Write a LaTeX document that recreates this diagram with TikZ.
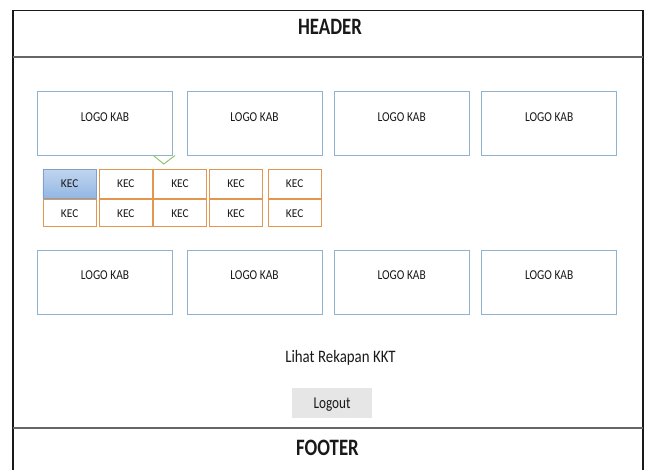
\documentclass[tikz,border=0pt]{standalone}
\usepackage{graphicx}
\usepackage{fontspec}
\setmainfont{Carlito}
% condensed label text: size, horizontal scale, text
\newcommand{\cond}[3]{\scalebox{#2}[1]{\fontsize{#1}{#1}\selectfont #3}}
\begin{document}
\begin{tikzpicture}[x=1pt,y=-1pt,
  frameline/.style={draw=black!90, line width=1.1pt},
  bandline/.style={draw=black!60, line width=1.6pt},
  logobox/.style={draw=logoblue, line width=0.9pt, fill=white, minimum width=135pt, minimum height=64.5pt, inner sep=0pt},
  kecbox/.style={draw=kecorange, line width=0.9pt, fill=white, minimum width=53.5pt, inner sep=0pt},
  kecsel/.style={kecbox, draw=selblue!90!black, top color=selblue!55, bottom color=selblue!95},
  txt/.style={inner sep=0pt, anchor=base, text=black!90},
]
\definecolor{logoblue}{HTML}{8EB2CF}
\definecolor{kecorange}{HTML}{E3964F}
\definecolor{selblue}{HTML}{8DB3E2}
\definecolor{chevgreen}{HTML}{86C266}
\definecolor{btngrey}{HTML}{E6E6E6}
\useasboundingbox (0,0) rectangle (649,470);
\fill[white] (0,0) rectangle (649,470);

% page frame with header and footer bands
\draw[frameline] (13,470) -- (13,10.5) -- (643,10.5) -- (643,470);
\draw[bandline] (13,57) -- (643,57);
\draw[bandline] (13,428) -- (643,428);
\node[txt] (header) at (330,35) {\cond{23.5}{0.8}{\bfseries HEADER}};
\node[txt] (footer) at (327.5,456) {\cond{23.5}{0.8}{\bfseries FOOTER}};

% top row of regency logos
\node[logobox] (k1) at (105,123.7) {};
\node[logobox] (k2) at (254.5,123.7) {};
\node[logobox] (k3) at (401.7,123.7) {};
\node[logobox] (k4) at (549.2,123.7) {};

% bottom row of regency logos
\node[logobox] (k5) at (105,282.3) {};
\node[logobox] (k6) at (254.5,282.3) {};
\node[logobox] (k7) at (401.7,282.3) {};
\node[logobox] (k8) at (549.2,282.3) {};

\foreach \k in {k1,k2,k3,k4,k5,k6,k7,k8}
  \node[txt, yshift=2.5pt] (\k-t) at (\k.center) {\cond{13.6}{0.84}{LOGO KAB}};

% pointer under the first logo
\coordinate (cv1) at (153.3,155.5);
\coordinate (cv2) at (163.8,164);
\coordinate (cv3) at (175,155.5);
\draw[chevgreen, line width=0.9pt] (cv1) -- (cv2) -- (cv3);

% district grid
\node[kecsel, minimum height=29pt] (c11) at (69.7,183.8) {};
\node[kecbox, minimum height=29pt] (c12) at (125.8,183.8) {};
\node[kecbox, minimum height=29pt] (c13) at (180,183.8) {};
\node[kecbox, minimum height=29pt] (c14) at (236,183.8) {};
\node[kecbox, minimum height=29pt] (c15) at (294.7,183.8) {};
\node[kecbox, minimum height=27pt] (c21) at (69.7,213.4) {};
\node[kecbox, minimum height=27pt] (c22) at (125.8,213.4) {};
\node[kecbox, minimum height=27pt] (c23) at (180,213.4) {};
\node[kecbox, minimum height=27pt] (c24) at (236,213.4) {};
\node[kecbox, minimum height=27pt] (c25) at (294.7,213.4) {};
\foreach \c in {c11,c12,c13,c14,c15,c21,c22,c23,c24,c25}
  \node[txt, yshift=-4pt] (\c-t) at (\c.center) {\cond{12}{0.95}{KEC}};

\node[txt] (rekap) at (340.5,362.5) {\cond{17.5}{0.85}{Lihat Rekapan KKT}};
\node[fill=btngrey, minimum width=80pt, minimum height=30pt, inner sep=0pt] (logout) at (332,403) {};
\node[txt, yshift=-6pt] (logout-t) at (logout.center) {\cond{16.5}{0.8}{Logout}};
\end{tikzpicture}
\end{document}
